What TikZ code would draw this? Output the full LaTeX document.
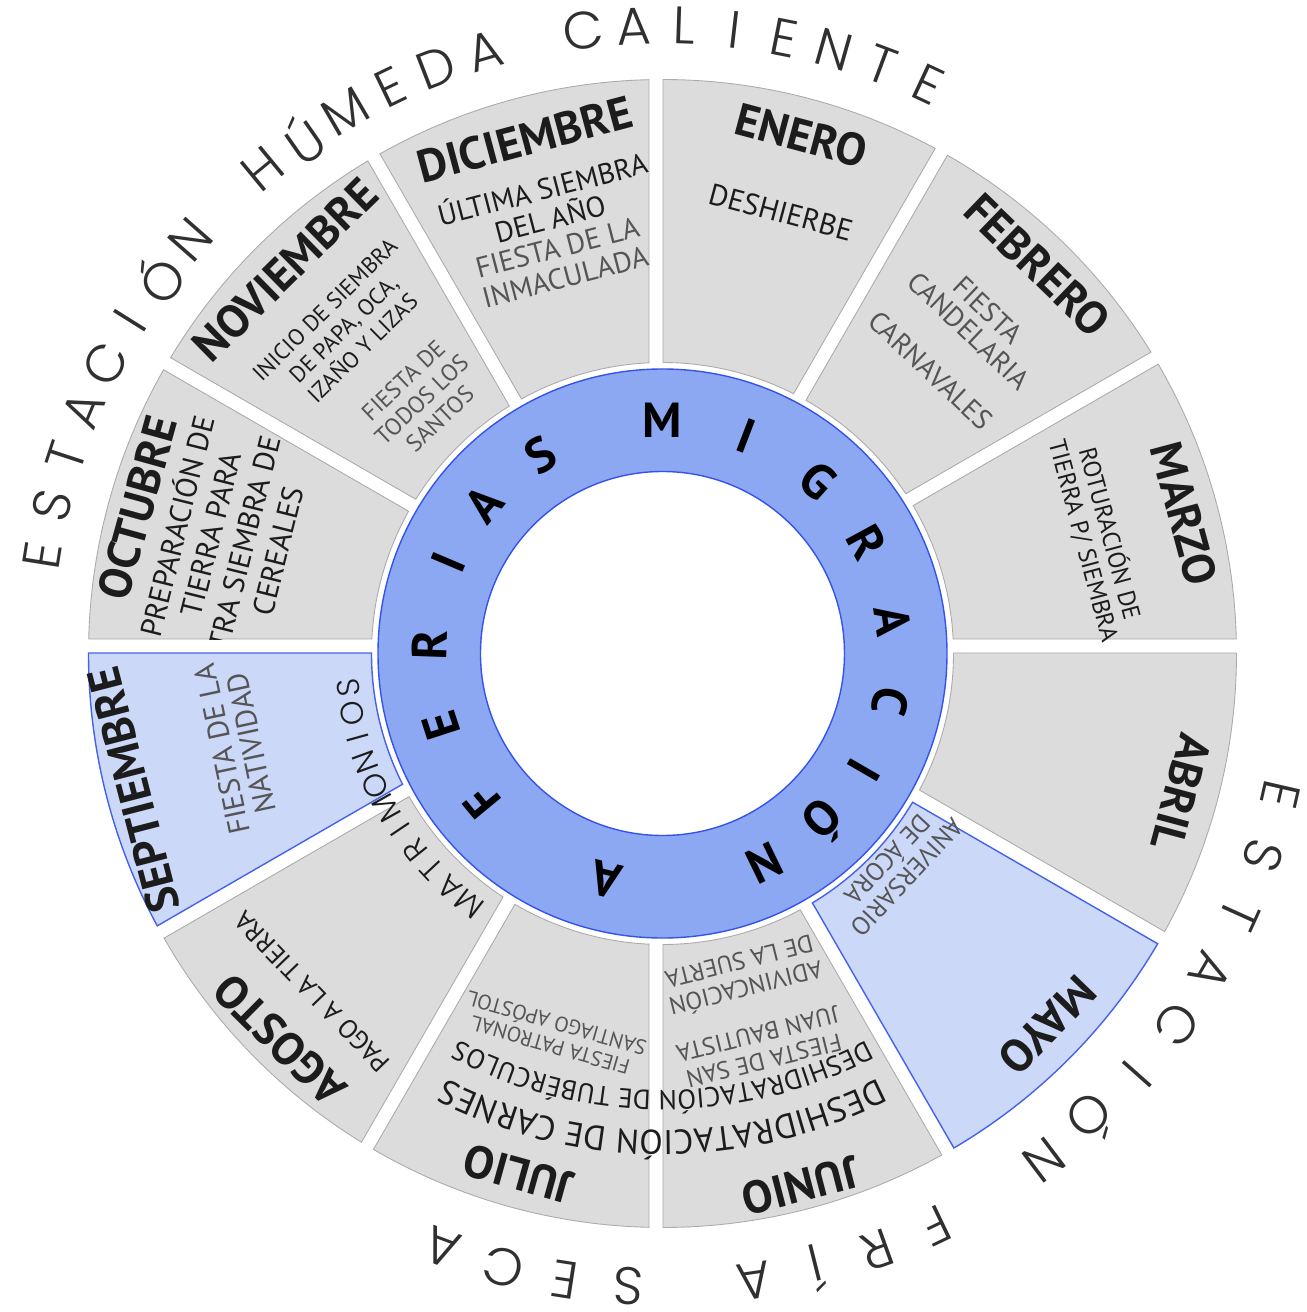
\documentclass[tikz,border=0pt]{standalone}
\usepackage{fontspec}
\setmainfont{PT Sans}
\newfontfamily\seasonfont{Poppins Light}
\usetikzlibrary{decorations.text}
\definecolor{secgray}{HTML}{DCDCDC}
\definecolor{secline}{HTML}{ABABAB}
\definecolor{hifill}{HTML}{CCD8F8}
\definecolor{hiline}{HTML}{4462EC}
\definecolor{ringblue}{HTML}{8DA8F3}
\definecolor{ringline}{HTML}{3553EA}
\definecolor{inkdark}{HTML}{1C1C1C}
\definecolor{inkgray}{HTML}{555555}
\definecolor{seasonink}{HTML}{303030}

\tikzset{
  sector/.style={fill=secgray, draw=secline, line width=0.5pt},
  hisector/.style={fill=hifill, draw=hiline, line width=0.8pt},
  monthlbl/.style={font=\bfseries\fontsize{26}{26}\selectfont, text=inkdark, inner sep=0pt},
  chore/.style={font=\fontsize{#1}{#1}\selectfont, text=inkdark, align=center, inner sep=0pt},
  feast/.style={chore=#1, text=inkgray},
  loose/.style={execute at begin node={\linespread{#1}\selectfont}},
  ringlbl/.style={font=\bfseries\fontsize{28}{28}\selectfont, text=black, inner sep=0pt},
  seasonlbl/.style={font=\seasonfont\fontsize{30}{30}\selectfont, text=seasonink, inner sep=0pt},
  weddinglbl/.style={font=\seasonfont\fontsize{18}{18}\selectfont, text=inkdark, inner sep=0pt},
}

% corners of the sector that starts at angle #1 (gap lines pass a little off the centre)
\newcommand{\setcorners}[1]{%
  \pgfmathsetmacro{\b}{#1+30}%
  \pgfmathsetmacro{\da}{6.5*sin(#1)+7.5*cos(#1)+\gap}%
  \pgfmathsetmacro{\db}{6.5*sin(\b)+7.5*cos(\b)-\gap}%
  \pgfmathsetmacro{\aO}{#1+asin(\da/\Ro)}%
  \pgfmathsetmacro{\bO}{\b+asin(\db/\Ro)}%
  \pgfmathsetmacro{\aI}{#1+asin(\da/\Ri)}%
  \pgfmathsetmacro{\bI}{\b+asin(\db/\Ri)}}
\newcommand{\sectorpath}{(\aO:\Ro) arc[start angle=\aO, end angle=\bO, radius=\Ro]
  -- (\bI:\Ri) arc[start angle=\bI, end angle=\aI, radius=\Ri] -- cycle}

\begin{document}
\begin{tikzpicture}[x=0.02cm, y=0.02cm]
  % one unit = one pixel of the poster, origin at the centre of the ring
  \useasboundingbox (-662.5,-658.5) rectangle (644.5,653.5);
  \def\Ri{291}\def\Ro{574}\def\gap{7}

  % ---------- month sectors ----------
  \foreach \a/\kind in {0/sector,30/sector,60/sector,90/sector,120/sector,150/sector,
                        180/hisector,210/sector,240/sector,270/sector,300/hisector,330/sector}{
    \setcorners{\a}
    \draw[\kind] \sectorpath;
  }

  % ---------- central ring ----------
  \fill[ringblue] (0,0) circle[radius=284.5];
  \draw[ringline, line width=0.8pt] (0,0) circle[radius=284.5];
  \filldraw[fill=white, draw=ringline, line width=0.8pt] (0,0) circle[radius=182];
  \foreach \ang/\ch [count=\i] in {90/M,69/I,48/G,28.5/R,8/A,-12/C,-30/I,-46/Ó,-64/N,
                                  -104/A,-140.5/F,-162/E,-182/R,-203/I,-220/A,-238.5/S}
    \node[ringlbl, rotate=\ang-90] (ring-\i) at (\ang:233) {\ch};

  % ---------- month names ----------
  \node[monthlbl, rotate=15]     (dic) at (105:532)   {DICIEMBRE};
  \node[monthlbl, rotate=-15]    (ene) at (75:536)    {ENERO};
  \node[monthlbl, rotate=-44]    (feb) at (46:540)    {FEBRERO};
  \node[monthlbl, rotate=-75]    (mar) at (15:540)    {MARZO};
  \node[monthlbl, rotate=-105]   (abr) at (-15:537)   {ABRIL};
  \node[monthlbl, rotate=-134]   (may) at (-44:535)   {MAYO};
  \node[monthlbl, rotate=-165.5] (jun) at (-75.5:550) {JUNIO};
  \node[monthlbl, rotate=-195.5] (jul) at (-105.5:540){JULIO};
  \node[monthlbl, rotate=135.3]  (ago) at (225.3:544) {AGOSTO};
  \node[monthlbl, rotate=104.5]  (sep) at (194.5:546) {SEPTIEMBRE};
  \node[monthlbl, rotate=74.5]   (oct) at (164.5:545) {OCTUBRE};
  \node[monthlbl, rotate=44.5]   (nov) at (134.5:538) {NOVIEMBRE};

  % ---------- tasks and feasts ----------
  \node[chore=16.5, rotate=14.5, loose=1.05] (dicWork)  at (104.5:466) {ÚLTIMA SIEMBRA\\DEL AÑO};
  \node[feast=16.5, rotate=14.5, loose=1.05] (dicFeast) at (104.5:404) {FIESTA DE LA\\INMACULADA};
  \node[chore=17, rotate=-15]    (eneWork)  at (75:457)    {DESHIERBE};
  \node[feast=16, rotate=-43.5]  (febFeast) at (46.5:459)  {FIESTA\\CANDELARIA};
  \node[feast=16, rotate=-43.5]  (febCarn)  at (46.5:390)  {CARNAVALES};
  \node[chore=14, rotate=-75, loose=1.1] (marWork) at (15:450) {ROTURACIÓN DE\\TIERRA P/ SIEMBRA};
  \node[feast=14.5, rotate=-133, loose=1.05] (mayFeast) at (-42.5:318) {ANIVERSARIO\\DE ÁCORA};
  \node[feast=14, rotate=-166, loose=1.1] (junFeast) at (-76:406) {FIESTA DE SAN\\JUAN BAUTISTA};
  \node[feast=14, rotate=-166, loose=1.1] (junLuck)  at (-76:333) {ADIVINCACIÓN\\DE LA SUERTA};
  \node[feast=12, rotate=-196, loose=1.1] (julFeast) at (-106:396) {FIESTA PATRONAL\\SANTIAGO APÓSTOL};
  \node[chore=15, rotate=134]    (agoWork)  at (224:487)   {PAGO A LA TIERRA};
  \node[feast=17, rotate=102]    (sepFeast) at (192.3:436) {FIESTA DE LA\\NATIVIDAD};
  \node[chore=13, rotate=44.5, loose=1.18] (novWork)  at (134.5:455) {INICIO DE SIEMBRA\\DE PAPA, OCA,\\IZAÑO Y LIZAS};
  \node[feast=13.5, rotate=43.5, loose=1.12] (novFeast) at (133.5:350) {FIESTA DE\\TODOS LOS\\SANTOS};
  % October's text runs off the bottom of its sector and is cut there
  \begin{scope}
    \setcorners{150}
    \clip \sectorpath;
    \node[chore=17, rotate=76, loose=1.15] (octWork) at (165.2:452)
      {PREPARACIÓN DE\\TIERRA PARA\\TRA SIEMBRA DE\\CEREALES};
  \end{scope}

  % drying lines run across June and July along the circle
  \path[decorate, decoration={text along path, text align=center,
      text={|\fontsize{19.5}{19.5}\selectfont\color{inkdark}|DESHIDRATACIÓN DE CARNES}}]
    (-45:477) arc[start angle=-45, end angle=-135, radius=477];
  \path[decorate, decoration={text along path, text align=center,
      text={|\fontsize{15.6}{15.6}\selectfont\color{inkdark}|DESHIDRATACIÓN DE TUBÉRCULOS}}]
    (-45:437) arc[start angle=-45, end angle=-135, radius=437];

  % ---------- spaced lettering on arcs ----------
  \foreach \ch [count=\i from 0] in {M,A,T,R,I,M,O,N,I,O,S}{
    \pgfmathsetmacro{\ang}{232.3-4.6*\i}
    \node[weddinglbl, rotate=\ang-90] (wed-\i) at (\ang:316) {\ch};
  }
  \foreach \ch [count=\i from 0] in {E,S,T,A,C,I,Ó,N,,H,Ú,M,E,D,A,,C,A,L,I,E,N,T,E}{
    \pgfmathsetmacro{\ang}{171-4.61*\i}
    \node[seasonlbl, rotate=\ang-90] (wet-\i) at (\ang:628) {\ch};
  }
  \foreach \ch [count=\i from 0] in {E,S,T,A,C,I,Ó,N,,F,R,Í,A,,S,E,C,A}{
    \pgfmathsetmacro{\ang}{-12.9-5.73*\i}
    \node[seasonlbl, rotate=\ang-90] (dry-\i) at (\ang:634) {\ch};
  }
\end{tikzpicture}
\end{document}
